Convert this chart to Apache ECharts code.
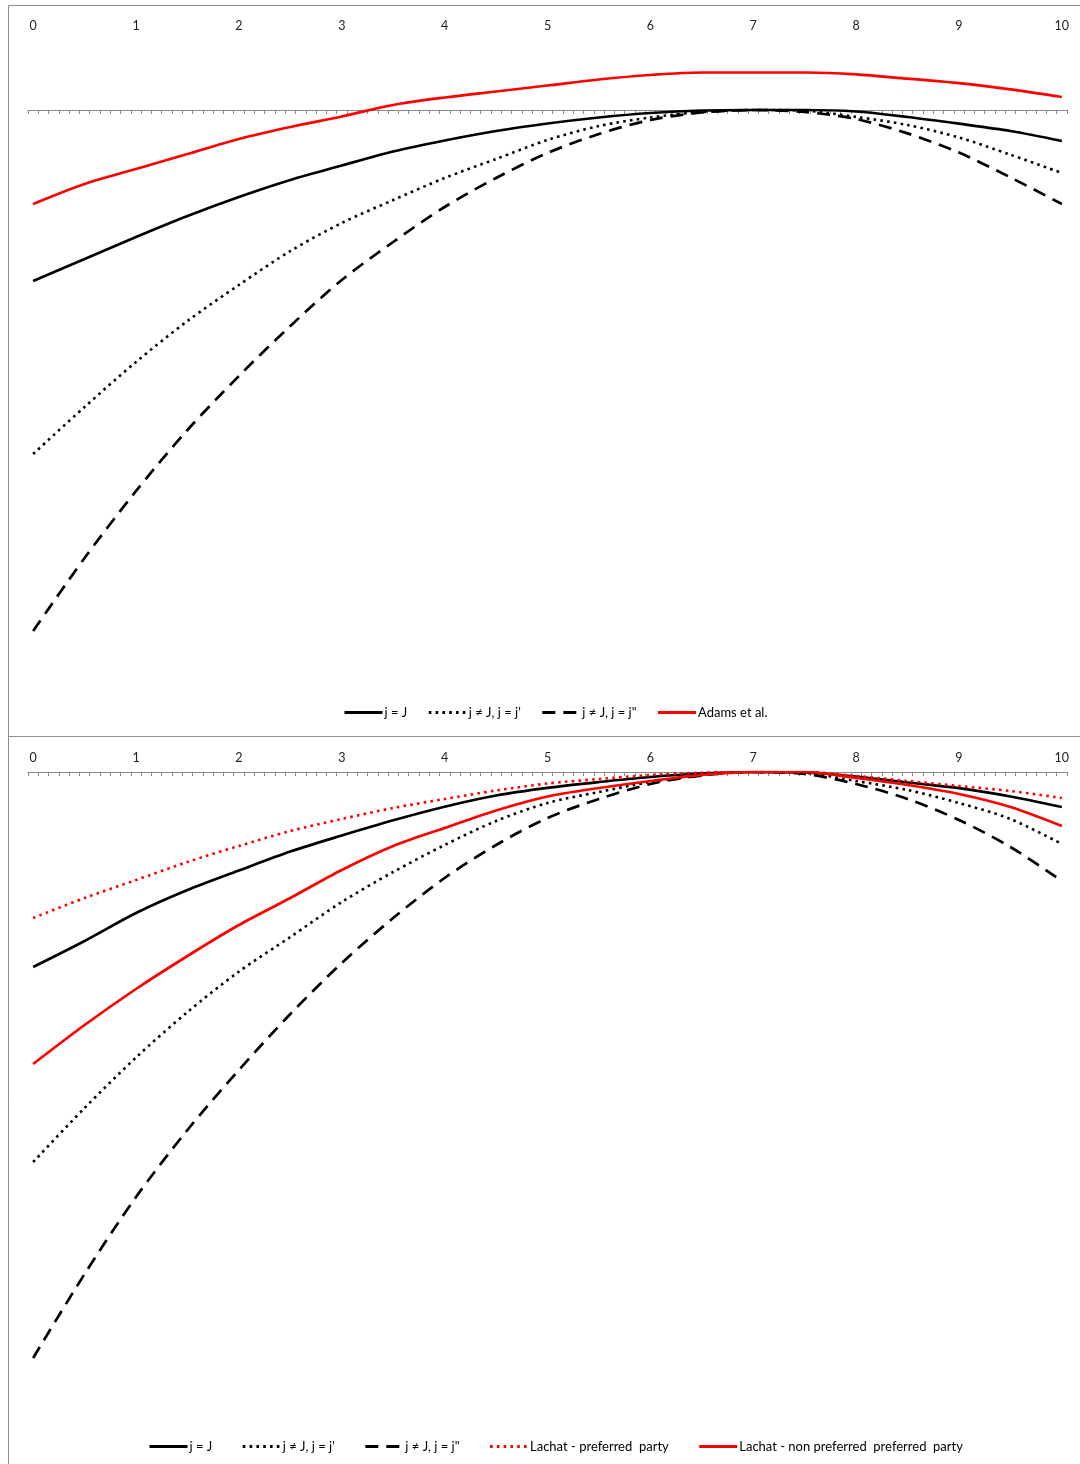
<!DOCTYPE html>
<html>
<head>
<meta charset="utf-8">
<script src="https://cdn.jsdelivr.net/npm/echarts@6/dist/echarts.min.js"></script>
<style>html,body{margin:0;padding:0;background:#fff}#c{width:1080px;height:1464px}</style>
</head>
<body>
<div id="c"></div>
<script>
// x positions where values were read (spatial position 0..10)
const xs = [0,0.5,1,1.5,2,2.5,3,3.5,4,4.5,5,5.5,6,6.5,7,7.5,8,8.5,9,9.5,10];
// axis tick labels: categories 0.0 .. 10.0 in steps of 0.1
const categories = Array.from({length:101}, (_, i) => (i/10).toString());

// Top panel
const topJ     = [-1.71,-1.49,-1.27,-1.06,-0.87,-0.70,-0.555,-0.415,-0.305,-0.21,-0.135,-0.075,-0.03,-0.005,0,0,-0.015,-0.07,-0.137,-0.21,-0.31];
const topDot   = [-3.44,-2.97,-2.52,-2.11,-1.75,-1.41,-1.13,-0.90,-0.68,-0.49,-0.30,-0.16,-0.075,-0.02,0,-0.007,-0.069,-0.15,-0.275,-0.447,-0.63];
const topDash  = [-5.21,-4.48,-3.81,-3.20,-2.66,-2.16,-1.70,-1.32,-0.97,-0.68,-0.43,-0.24,-0.10,-0.025,0,-0.02,-0.09,-0.234,-0.426,-0.674,-0.94];
const topAdams = [-0.94,-0.74,-0.59,-0.44,-0.29,-0.17,-0.065,0.05,0.125,0.185,0.245,0.305,0.35,0.375,0.375,0.375,0.357,0.313,0.268,0.206,0.13];

// Bottom panel
const botJ       = [-1.95,-1.69,-1.41,-1.18,-0.985,-0.795,-0.635,-0.483,-0.347,-0.235,-0.158,-0.10,-0.05,-0.015,0,-0.005,-0.045,-0.105,-0.162,-0.245,-0.35];
const botDot     = [-3.90,-3.36,-2.855,-2.40,-1.996,-1.65,-1.30,-1.00,-0.73,-0.49,-0.31,-0.20,-0.10,-0.03,0,-0.01,-0.09,-0.18,-0.31,-0.47,-0.72];
const botDash    = [-5.86,-5.02,-4.25,-3.58,-2.98,-2.42,-1.91,-1.46,-1.06,-0.73,-0.46,-0.27,-0.12,-0.035,0,-0.02,-0.12,-0.27,-0.48,-0.75,-1.09];
const botLachatP = [-1.46,-1.26,-1.08,-0.90,-0.74,-0.59,-0.47,-0.36,-0.27,-0.185,-0.115,-0.07,-0.03,-0.007,0,0,-0.04,-0.09,-0.14,-0.19,-0.26];
const botLachatN = [-2.92,-2.53,-2.17,-1.84,-1.53,-1.26,-0.98,-0.74,-0.56,-0.385,-0.245,-0.16,-0.09,-0.03,0,0,-0.06,-0.13,-0.22,-0.35,-0.54];

const names = {
  j: 'j = J',
  dot: "j \u2260 J, j = j'",
  dash: 'j \u2260 J, j = j"',
  adams: 'Adams et al.',
  lp: 'Lachat - preferred  party',
  ln: 'Lachat - non preferred  preferred  party'
};

const FONT = 'Lato, "Liberation Sans", sans-serif';
const pair = arr => xs.map((x, i) => [x, arr[i]]);

const styles = {
  solidBlack: {color:'#000', width:2.7, type:'solid'},
  dotBlack:   {color:'#000', width:2.6, type:[2.6,4.2]},
  dashBlack:  {color:'#000', width:2.7, type:[13,8]},
  solidRed:   {color:'#ff0000', width:2.7, type:'solid'},
  dotRed:     {color:'#ff0000', width:2.6, type:[2.6,4.2]}
};

function line(name, arr, st, gi) {
  return {
    name, type:'line', data: pair(arr), xAxisIndex: gi*3 + 2, yAxisIndex: gi,
    symbol:'none', showSymbol:false, smooth:0.3, animation:false,
    lineStyle: Object.assign({cap:'butt'}, st),
    itemStyle: {color: st.color}
  };
}

const axisGray = '#8a8a8a';
function labelAxis(gi, pos, showLine) {
  return {
    type:'category', gridIndex: gi, position: pos, data: categories, boundaryGap: true,
    axisLine: {show: showLine, onZero:false, lineStyle:{color:axisGray, width:1}},
    axisTick: {show: showLine, inside:true, interval:0, length:4, lineStyle:{color:axisGray, width:1}},
    axisLabel: {show:true, interval:9, margin:8, color:'#222', fontSize:12.5, fontFamily: FONT,
                formatter: v => String(Math.round(parseFloat(v)))},
    splitLine:{show:false}
  };
}
function tickAxis(gi) {
  return {
    type:'category', gridIndex: gi, position:'bottom', data: categories, boundaryGap: true,
    axisLine: {show:true, onZero:true, lineStyle:{color:axisGray, width:1}},
    axisTick: {show:true, inside:false, interval:0, length:4, lineStyle:{color:axisGray, width:1}},
    axisLabel: {show:false}, splitLine:{show:false}
  };
}
function dataAxis(gi) {
  return {type:'value', gridIndex: gi, min:-0.05, max:10.05, show:false, splitLine:{show:false}};
}

const legendCommon = {
  itemWidth:38, itemHeight:14, selectedMode:false,
  itemStyle:{opacity:0, borderWidth:0},
  lineStyle:{width:3},
  textStyle:{fontFamily:FONT, fontSize:13, color:'#000', padding:[5,0,0,-3]}
};

const option = {
  backgroundColor:'#fff',
  animation:false,
  graphic: [
    {type:'rect', silent:true, z:-10, shape:{x:8.5, y:5.5, width:1100, height:731}, style:{fill:'none', stroke:'#8c8c8c', lineWidth:1}},
    {type:'rect', silent:true, z:-10, shape:{x:8.5, y:736.5, width:1100, height:800}, style:{fill:'none', stroke:'#8c8c8c', lineWidth:1}}
  ],
  grid: [
    {left:28, width:1039, top:40, height:610},
    {left:28, width:1039, top:772, height:620}
  ],
  xAxis: [
    labelAxis(0, 'top', false), tickAxis(0), dataAxis(0),
    labelAxis(1, 'top', true), Object.assign(tickAxis(1), {show:false}), dataAxis(1)
  ],
  yAxis: [
    {type:'value', gridIndex:0, min:-5.4, max:0.7, show:false, splitLine:{show:false}},
    {type:'value', gridIndex:1, min:-6.2, max:0, show:false, splitLine:{show:false}}
  ],
  legend: [
    Object.assign({left:338, top:701, itemGap:20,
     data:[names.j, names.dot, names.dash, names.adams]}, legendCommon),
    Object.assign({left:143, top:1435, itemGap:29,
     data:[names.j, names.dot, names.dash, names.lp, names.ln]}, legendCommon)
  ],
  series: [
    line(names.j, topJ, styles.solidBlack, 0),
    line(names.dot, topDot, styles.dotBlack, 0),
    line(names.dash, topDash, styles.dashBlack, 0),
    line(names.adams, topAdams, styles.solidRed, 0),
    line(names.j, botJ, styles.solidBlack, 1),
    line(names.dot, botDot, styles.dotBlack, 1),
    line(names.dash, botDash, styles.dashBlack, 1),
    line(names.lp, botLachatP, styles.dotRed, 1),
    line(names.ln, botLachatN, styles.solidRed, 1)
  ]
};

const chart = echarts.init(document.getElementById('c'), null, {renderer:'canvas'});
chart.setOption(option);
</script>
</body>
</html>
